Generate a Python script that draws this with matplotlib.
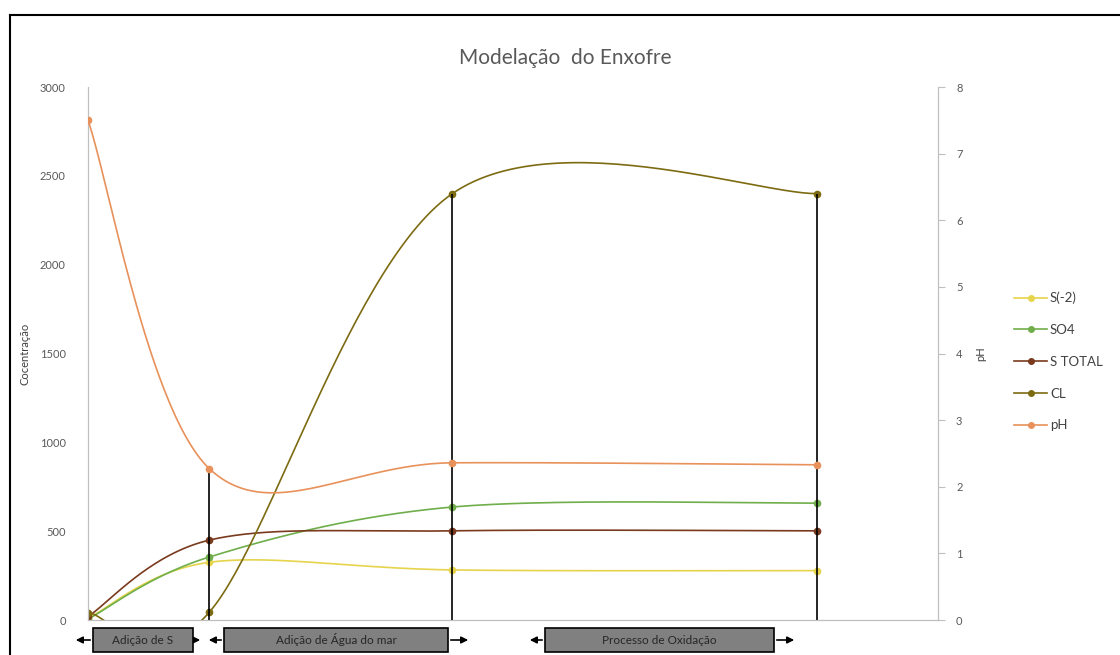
import numpy as np
import matplotlib.pyplot as plt
from matplotlib.patches import Rectangle, FancyArrowPatch
from matplotlib.lines import Line2D

plt.rcParams['font.family'] = ['Lato', 'DejaVu Sans']

# etapas do processo (eixo x de dispersão)
etapas = [0, 1, 3, 6]
s_menos2 = [10, 325, 282, 278]
so4 = [5, 355, 636, 658]
s_total = [20, 450, 502, 502]
cl = [40, 45, 2400, 2400]
ph = [7.5, 2.27, 2.36, 2.33]

series = [
    ('S(-2)', s_menos2, '#E6D44C'),
    ('SO4', so4, '#6FAE4A'),
    ('S TOTAL', s_total, '#7A3A1E'),
    ('CL', cl, '#7D6B12'),
]
cor_ph = '#E8915A'

fases = ['Adição de S', 'Adição de Água do mar', 'Processo de Oxidação']


def suavizar(x, y, n=60):
    # curva suavizada ao estilo do Excel (Bezier com pontos de controlo a 1/6)
    p = np.column_stack([x, y]).astype(float)
    pts = [p[0]]
    for i in range(len(p) - 1):
        p0 = p[i - 1] if i > 0 else p[i]
        p1, p2 = p[i], p[i + 1]
        p3 = p[i + 2] if i + 2 < len(p) else p[i + 1]
        c1 = p1 + (p2 - p0) / 6
        c2 = p2 - (p3 - p1) / 6
        t = np.linspace(0, 1, n)[1:, None]
        seg = ((1 - t) ** 3 * p1 + 3 * (1 - t) ** 2 * t * c1
               + 3 * (1 - t) * t ** 2 * c2 + t ** 3 * p2)
        pts.extend(seg)
    pts = np.array(pts)
    return pts[:, 0], pts[:, 1]


fig = plt.figure(figsize=(11.2, 6.55), dpi=100)
ax = fig.add_axes([0.0786, 0.0534, 0.7589, 0.8137])
ax2 = ax.twinx()

for nome, vals, cor in series:
    xs, ys = suavizar(etapas, vals)
    ax.plot(xs, ys, color=cor, lw=1.2, zorder=3)
    ax.plot(etapas, vals, 'o', color=cor, ms=4.5, zorder=4)

xs, ys = suavizar(etapas, ph)
ax2.plot(xs, ys, color=cor_ph, lw=1.2, zorder=3)
ax2.plot(etapas, ph, 'o', color=cor_ph, ms=4.5, zorder=4)

# linhas verticais que separam as fases
ax.vlines(etapas[1], 0, ph[1] * 3000 / 8, color='black', lw=1.2, zorder=5)
ax.vlines(etapas[2:], 0, cl[2:], color='black', lw=1.2, zorder=5)

ax.set_xlim(0, 7)
ax.set_ylim(0, 3000)
ax2.set_ylim(0, 8)
ax.set_yticks(range(0, 3001, 500))
ax2.set_yticks(range(0, 9))
ax.set_xticks([])

for a in (ax, ax2):
    a.spines['top'].set_visible(False)
    for s in ('left', 'right', 'bottom'):
        a.spines[s].set_color('#BFBFBF')
    a.tick_params(labelsize=8, colors='#595959')
ax.tick_params(axis='y', length=0, pad=16)
ax2.tick_params(axis='y', length=5, color='#BFBFBF', pad=8)

ax.set_ylabel('Cocentração', fontsize=8, color='#404040')
ax.yaxis.set_label_coords(-0.068, 0.5)
ax2.set_ylabel('pH', fontsize=8, color='#404040')
ax2.yaxis.set_label_coords(1.044, 0.5)
fig.text(0.505, 0.912, 'Modelação  do Enxofre', ha='center', va='center',
         fontsize=15, color='#595959')

# legenda
handles = [Line2D([], [], color=c, marker='o', ms=4, lw=1.2) for _, _, c in series]
handles.append(Line2D([], [], color=cor_ph, marker='o', ms=4, lw=1.2))
nomes = [n for n, _, _ in series] + ['pH']
fig.legend(handles, nomes, loc='center left', bbox_to_anchor=(0.895, 0.448),
           frameon=False, fontsize=9.5, labelcolor='#404040', handlelength=2.5,
           handletextpad=0.2, labelspacing=1.5)

# caixas das fases com setas (em pixels da figura)
W, H = 1120, 655
caixas = [(93, 193, 73, 203), (224, 448, 206, 471), (545, 774, 527, 797)]
yc = H - 640
for fase, (x0, x1, a0, a1) in zip(fases, caixas):
    fig.patches.append(Rectangle((x0 / W, (H - 652) / H), (x1 - x0) / W, 24 / H,
                                 transform=fig.transFigure, facecolor='#808080',
                                 edgecolor='black', lw=1.2, zorder=5))
    fig.text((x0 + x1) / 2 / W, (yc - 4) / H, fase, ha='center', va='baseline',
             fontsize=8.5, color='#262626', zorder=6)
    for xa, xb in ((x0, a0), (x1, a1)):
        fig.patches.append(FancyArrowPatch(
            (xa / W, yc / H), (xb / W, yc / H), transform=fig.transFigure,
            arrowstyle='-|>', mutation_scale=10, color='black', lw=1.2))

# moldura
fig.add_artist(Line2D([10 / W, 10 / W], [0, (H - 15) / H], color='black', lw=1.5))
fig.add_artist(Line2D([10 / W, 1], [(H - 15) / H, (H - 15) / H], color='black', lw=1.5))

plt.savefig('out.png', dpi=100)
